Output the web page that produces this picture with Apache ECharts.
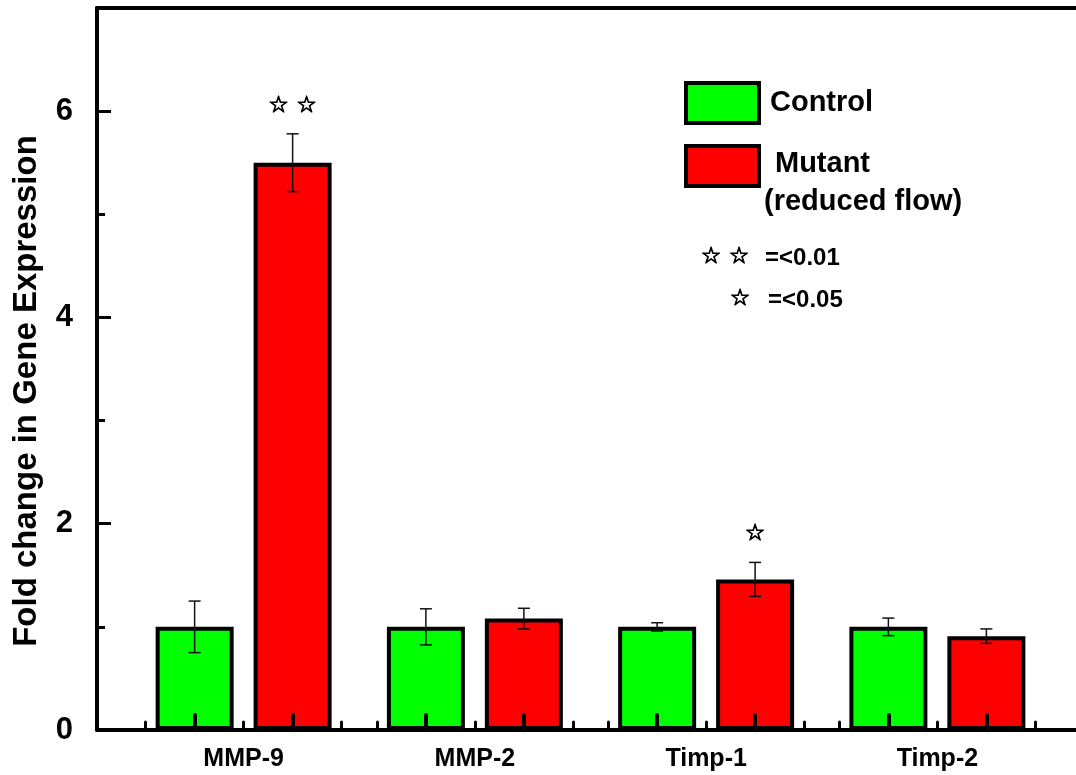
<!DOCTYPE html>
<html>
<head>
<meta charset="utf-8">
<script src="https://cdn.jsdelivr.net/npm/echarts@6/dist/echarts.min.js"></script>
<style>
html, body { margin: 0; padding: 0; background: #fff; }
#chart { width: 1076px; height: 775px; }
</style>
</head>
<body>
<div id="chart"></div>
<script>
// data
var genes = ['MMP-9', 'MMP-2', 'Timp-1', 'Timp-2'];
var controlMean = [1.0, 1.0, 1.0, 1.0];
var controlErr = [0.25, 0.175, 0.04, 0.085];
var mutantMean = [5.5, 1.08, 1.46, 0.91];
var mutantErr = [0.28, 0.1, 0.165, 0.07];
var controlSig = ['', '', '', ''];
var mutantSig = ['\u2606 \u2606', '', '\u2606', ''];
var yTicks = [0, 2, 4, 6];
var yMinorTicks = [1, 3, 5];

// layout
var FONT = '"Liberation Sans", Arial, sans-serif';
var STAR_FONT = '23px "DejaVu Sans"';
var W = 1076;
var gridTop = 8, gridBottom = 45;
var barLeft = 128, barRight = 23;
var barW = 78, border = 4, pitch = 98;                // pitch = centre-to-centre of the two bars
var half = pitch / 2;
var catW = (W - barLeft - barRight) / genes.length;  // px per category
var d = half / catW;

var majorX = [], minorX = [];
genes.forEach(function (g, i) {
    var c = i + 0.5;
    majorX.push(c - d, c + d);
    minorX.push(c - 2 * d, c, c + 2 * d);
});

var myChart = echarts.init(document.getElementById('chart'));

function starStyle(text, x, y) {
    return {
        text: text, x: x, y: y,
        align: 'center', verticalAlign: 'middle',
        textAlign: 'center', textVerticalAlign: 'middle',
        font: STAR_FONT, fill: '#000', stroke: '#000', lineWidth: 1
    };
}

function errorSeries(name, mean, err, sig, side) {
    return {
        type: 'custom',
        name: name + '-err',
        xAxisIndex: 2,
        yAxisIndex: 2,
        z: 5,
        silent: true,
        data: mean.map(function (m, i) { return [i, m, err[i]]; }),
        renderItem: function (params, api) {
            var i = api.value(0), m = api.value(1), e = api.value(2);
            var x = api.coord([i, m])[0] + side * half;
            var yTop = api.coord([i, m + e])[1];
            var yBot = api.coord([i, m - e])[1];
            var cap = 6;
            var ls = { stroke: '#111', lineWidth: 1.5 };
            var children = [
                { type: 'line', shape: { x1: x, y1: yTop, x2: x, y2: yBot }, style: ls },
                { type: 'line', shape: { x1: x - cap, y1: yTop, x2: x + cap, y2: yTop }, style: ls },
                { type: 'line', shape: { x1: x - cap, y1: yBot, x2: x + cap, y2: yBot }, style: ls }
            ];
            var s = sig[params.dataIndex];
            if (s) {
                children.push({ type: 'text', style: starStyle(s, x, yTop - 28) });
            }
            return { type: 'group', children: children };
        }
    };
}

var legendBase = {
    orient: 'vertical',
    padding: 0,
    left: 684,
    icon: 'rect',
    itemWidth: 73,
    itemHeight: 40,
    selectedMode: false,
    itemStyle: { borderColor: '#000', borderWidth: 4 }
};

var option = {
    backgroundColor: '#fff',
    animation: false,
    grid: [
        { left: 97, right: 0, top: gridTop, bottom: gridBottom },
        { left: barLeft, right: barRight, top: gridTop, bottom: gridBottom }
    ],
    legend: [
        Object.assign({}, legendBase, {
            data: ['Control'],
            top: 81,
            textStyle: { fontSize: 29, fontWeight: 'bold', fontFamily: FONT, color: '#000', padding: [0, 0, 0, 6] }
        }),
        Object.assign({}, legendBase, {
            data: ['Mutant'],
            top: 111,
            formatter: function () { return '{a|Mutant}\n(reduced flow)'; },
            textStyle: {
                fontSize: 29, fontWeight: 'bold', fontFamily: FONT, color: '#000',
                lineHeight: 38, padding: [34, 0, 0, 0],
                rich: { a: { fontSize: 29, fontWeight: 'bold', fontFamily: FONT, color: '#000', lineHeight: 38, padding: [0, 0, 0, 11] } }
            }
        })
    ],
    graphic: [
        {
            type: 'text', x: 27, y: 391, rotation: Math.PI / 2,
            style: {
                text: 'Fold change in Gene Expression',
                font: 'bold 33px ' + FONT, fill: '#000',
                align: 'center', verticalAlign: 'middle',
                textAlign: 'center', textVerticalAlign: 'middle'
            }
        },
        { type: 'text', style: starStyle('\u2606 \u2606', 725, 257) },
        {
            type: 'text', x: 765, y: 258,
            style: { text: '=<0.01', font: 'bold 24px ' + FONT, fill: '#000',
                align: 'left', verticalAlign: 'middle', textAlign: 'left', textVerticalAlign: 'middle' }
        },
        { type: 'text', style: starStyle('\u2606', 740, 299) },
        {
            type: 'text', x: 768, y: 300,
            style: { text: '=<0.05', font: 'bold 24px ' + FONT, fill: '#000',
                align: 'left', verticalAlign: 'middle', textAlign: 'left', textVerticalAlign: 'middle' }
        }
    ],
    xAxis: [
        {   // frame bottom
            gridIndex: 0, type: 'value', min: 0, max: 1, position: 'bottom',
            axisLine: { show: true, onZero: false, lineStyle: { color: '#000', width: 4 } },
            axisTick: { show: false }, axisLabel: { show: false }, splitLine: { show: false }, z: 10
        },
        {   // frame top
            gridIndex: 0, type: 'value', min: 0, max: 1, position: 'top',
            axisLine: { show: true, onZero: false, lineStyle: { color: '#000', width: 4 } },
            axisTick: { show: false }, axisLabel: { show: false }, splitLine: { show: false }, z: 10
        },
        {   // categories
            gridIndex: 1, type: 'category', data: genes, position: 'bottom',
            axisLine: { show: false, onZero: false }, axisTick: { show: false },
            axisLabel: { fontSize: 25, fontWeight: 'bold', fontFamily: FONT, color: '#000', margin: 17 }
        },
        {   // major ticks at bar centres
            gridIndex: 1, type: 'value', min: 0, max: genes.length, position: 'bottom',
            axisLine: { show: false, onZero: false }, axisLabel: { show: false }, splitLine: { show: false },
            axisTick: { show: true, inside: true, length: 15, customValues: majorX,
                lineStyle: { color: '#000', width: 4, cap: 'round' } },
            z: 10
        },
        {   // minor ticks
            gridIndex: 1, type: 'value', min: 0, max: genes.length, position: 'bottom',
            axisLine: { show: false, onZero: false }, axisLabel: { show: false }, splitLine: { show: false },
            axisTick: { show: true, inside: true, length: 8, customValues: minorX,
                lineStyle: { color: '#000', width: 3, cap: 'round' } },
            z: 10
        }
    ],
    yAxis: [
        {
            gridIndex: 0, type: 'value', min: 0, max: 7, position: 'left',
            axisLine: { show: true, onZero: false, lineStyle: { color: '#000', width: 4 } },
            axisTick: { show: true, inside: true, length: 14, customValues: yTicks,
                lineStyle: { color: '#000', width: 3 } },
            axisLabel: { customValues: yTicks, fontSize: 31, fontWeight: 'bold', fontFamily: FONT, color: '#000', margin: 24 },
            splitLine: { show: false }, z: 10
        },
        {
            gridIndex: 0, type: 'value', min: 0, max: 7, position: 'left',
            axisLine: { show: false, onZero: false },
            axisTick: { show: true, inside: true, length: 8, customValues: yMinorTicks,
                lineStyle: { color: '#000', width: 3 } },
            axisLabel: { show: false }, splitLine: { show: false }, z: 10
        },
        {
            gridIndex: 1, type: 'value', min: 0, max: 7, show: false, splitLine: { show: false }
        }
    ],
    series: [
        {
            name: 'Control', type: 'bar', xAxisIndex: 2, yAxisIndex: 2,
            data: controlMean, barWidth: barW, barGap: ((pitch - barW) / barW * 100).toFixed(1) + '%',
            itemStyle: { color: '#00ff00', borderColor: '#000', borderWidth: border }
        },
        {
            name: 'Mutant', type: 'bar', xAxisIndex: 2, yAxisIndex: 2,
            data: mutantMean, barWidth: barW,
            itemStyle: { color: '#ff0000', borderColor: '#000', borderWidth: border }
        },
        errorSeries('Control', controlMean, controlErr, controlSig, -1),
        errorSeries('Mutant', mutantMean, mutantErr, mutantSig, 1)
    ]
};

myChart.setOption(option);
</script>
</body>
</html>
